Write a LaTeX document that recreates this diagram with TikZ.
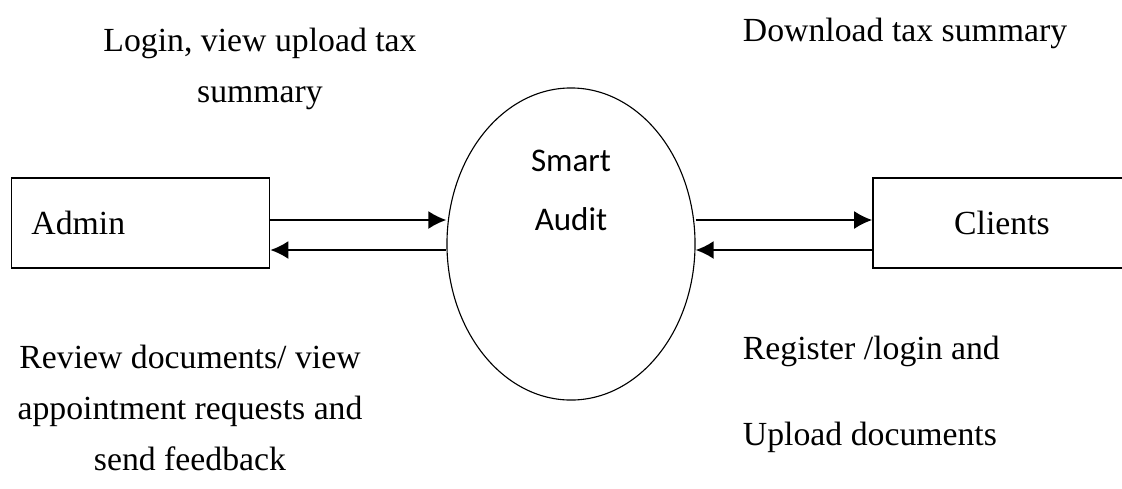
\documentclass[tikz,border=0pt]{standalone}
\usepackage{fontspec}
\setmainfont{Liberation Serif}
\newfontfamily\calibri{Carlito}
\usetikzlibrary{arrows.meta,shapes.geometric}

\begin{document}
\begin{tikzpicture}[x=0.025cm, y=-0.025cm,
    every node/.style={font=\fontsize{24}{36}\selectfont},
    entity/.style={draw, line width=1.1pt, minimum width=6.45cm, minimum height=2.25cm},
    flow/.style={-{Latex[length=4.5mm,width=4.5mm]}, line width=1.5pt}]
% Canvas
\useasboundingbox (0,0) rectangle (1122,488);
\clip (0,0) rectangle (1122,488);
% Entities and process
\node[entity, text width=5.45cm, inner xsep=0.5cm, align=left] (admin) at (140.5,223) {Admin};
\node[entity] (clients) at (1002,223) {Clients};
\node[draw, ellipse, line width=0.8pt, minimum width=6.2cm, minimum height=7.8cm] (sys) at (571,244) {};
\node[font=\calibri\fontsize{23.5}{42}\selectfont, align=center] (sysname) at (571,190) {Smart\\Audit};
% Flow levels
\coordinate (upper) at (0,220);
\coordinate (lower) at (0,250);
% Flows
\draw[flow] (admin.east |- upper) -- (sys.west |- upper);
\draw[flow] (sys.west |- lower) -- (admin.east |- lower);
\draw[flow] (sys.east |- upper) -- (clients.west |- upper);
\draw[flow] (clients.west |- lower) -- (sys.east |- lower);
% Labels
\node[align=center, anchor=base] (loginlbl) at (260,102) {Login, view upload tax\\summary};
\node[anchor=base west] (downlbl) at (738,41) {Download tax summary};
\node[align=left, anchor=base west, font=\fontsize{24}{61}\selectfont] (reglbl) at (738,445) {Register /login and\\Upload documents};
\node[align=center, anchor=base] (reviewlbl) at (190,470) {Review documents/ view\\appointment requests and\\send feedback};
\end{tikzpicture}
\end{document}
